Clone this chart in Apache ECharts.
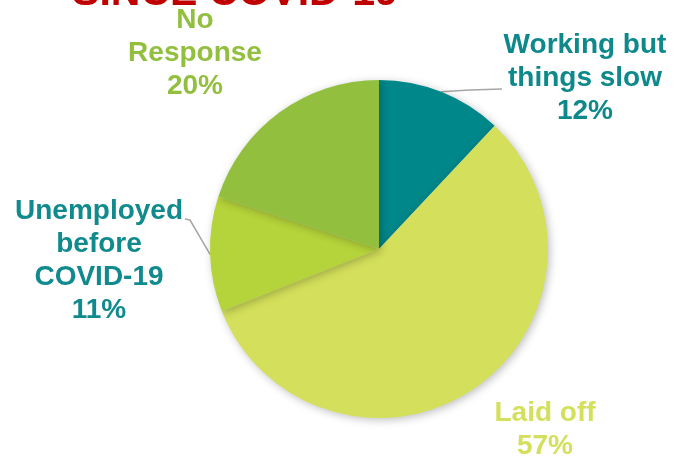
<!DOCTYPE html>
<html>
<head>
<meta charset="utf-8">
<script src="https://cdn.jsdelivr.net/npm/echarts@6/dist/echarts.min.js"></script>
<style>
  html, body { margin: 0; padding: 0; background: #ffffff; }
  #chart { width: 679px; height: 461px; }
</style>
</head>
<body>
<div id="chart"></div>
<script>
// Employment status since COVID-19 (share of respondents, %)
const categories = ['Working but\nthings slow', 'Laid off', 'Unemployed\nbefore\nCOVID-19', 'No\nResponse'];
const shares = [12, 57, 11, 20];
const sliceColors = ['#00878A', '#D4E05B', '#B5D33A', '#93BF3F'];
const labelColors = ['#0E898B', '#D4E05B', '#108A8C', '#93BF3F'];
const showLeader = [true, false, true, false];

// Label anchor points (centre of each text block)
const labelSpots = [[585, 78], [545, 430], [99, 261], [195, 53]];
// Leader line bends: [elbow, end] next to the text block
const leaderEnds = [[[470, 90], [502, 89]], null, [[190, 220], [185, 219]], null];

const chart = echarts.init(document.getElementById('chart'));

const data = categories.map((name, i) => ({
  name: name,
  value: shares[i],
  itemStyle: { color: sliceColors[i] },
  label: { color: labelColors[i] },
  labelLine: { show: showLeader[i] }
}));

chart.setOption({
  animation: false,
  graphic: [{
    type: 'text',
    x: 235,
    y: -6,
    style: {
      text: 'SINCE COVID-19',
      fill: '#C00000',
      font: 'bold 41px "Liberation Sans", Arial, sans-serif',
      textAlign: 'center',
      textVerticalAlign: 'middle'
    }
  }],
  series: [{
    type: 'pie',
    center: [379, 249],
    radius: 169,
    startAngle: 90,
    clockwise: true,
    avoidLabelOverlap: false,
    data: data,
    itemStyle: {
      shadowBlur: 8,
      shadowColor: 'rgba(0,0,0,0.25)',
      shadowOffsetX: 2,
      shadowOffsetY: 2
    },
    label: {
      show: true,
      position: 'outside',
      formatter: '{b}\n{c}%',
      fontFamily: '"Liberation Sans", Arial, sans-serif',
      fontWeight: 'bold',
      fontSize: 28,
      lineHeight: 33,
      align: 'center'
    },
    labelLine: {
      lineStyle: { color: '#A6A6A6', width: 1.5 },
      length: 0,
      length2: 10
    },
    labelLayout: function (params) {
      const i = params.dataIndex;
      const p = labelSpots[i];
      const out = { x: p[0], y: p[1], align: 'center', verticalAlign: 'middle' };
      const ends = leaderEnds[i];
      if (ends && params.labelLinePoints) {
        const anchor = params.labelLinePoints[0];
        out.labelLinePoints = [anchor, ends[0], ends[1]];
      }
      return out;
    }
  }]
});
</script>
</body>
</html>
